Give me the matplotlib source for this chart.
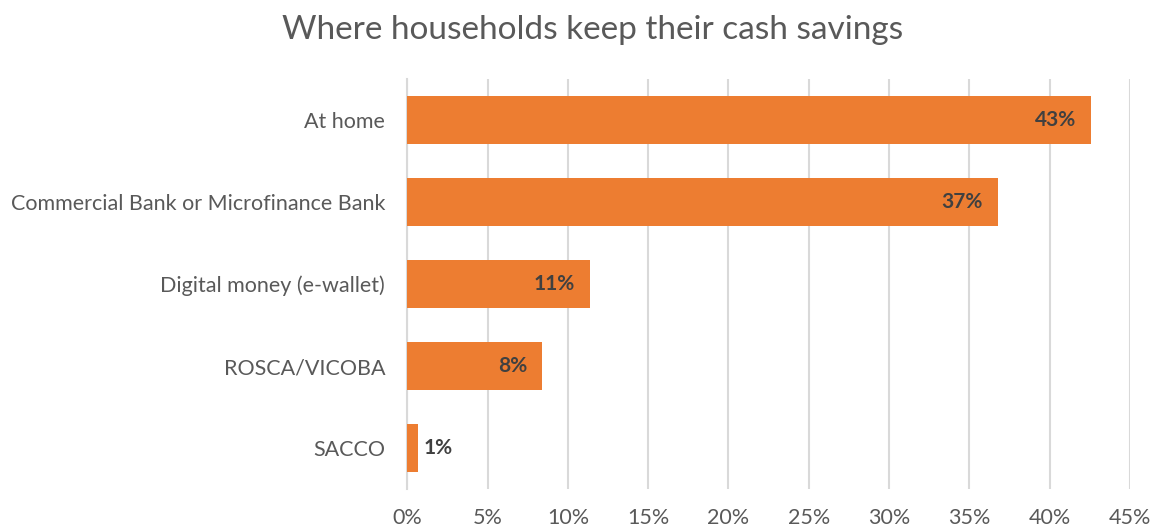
import matplotlib.pyplot as plt
from matplotlib.ticker import FuncFormatter, MultipleLocator

plt.rcParams.update({
    'font.family': ['Lato', 'DejaVu Sans'],
    'font.size': 15,
})

ORANGE = '#ED7D31'
GREY_TXT = '#595959'
GRID = '#D9D9D9'

# share of households (%) by savings location
places = ['At home', 'Commercial Bank or Microfinance Bank', 'Digital money (e-wallet)',
          'ROSCA/VICOBA', 'SACCO']
shares = [42.6, 36.8, 11.4, 8.4, 0.65]

fig = plt.figure(figsize=(11.56, 5.32), dpi=100)
ax = fig.add_axes([0.3523, 0.0808, 0.6252, 0.7707])

ypos = list(range(len(places)))[::-1]
ax.barh(ypos, shares, height=0.585, color=ORANGE, zorder=3)

for y, v in zip(ypos, shares):
    lbl = f'{v:.0f}%'
    if v > 3:
        ax.annotate(lbl, (v, y), xytext=(-11, 0), textcoords='offset points',
                    ha='right', va='center', fontsize=15, fontweight='bold',
                    color='#404040', zorder=4)
    else:
        ax.annotate(lbl, (v, y), xytext=(4, 0), textcoords='offset points',
                    ha='left', va='center', fontsize=15, fontweight='bold',
                    color='#404040', zorder=4)

ax.set_yticks(ypos)
ax.set_yticklabels(places)
ax.set_ylim(-0.5, len(places) - 0.5)
ax.set_xlim(0, 45)
ax.xaxis.set_major_locator(MultipleLocator(5))
ax.xaxis.set_major_formatter(FuncFormatter(lambda x, _: f'{x:.0f}%'))

ax.grid(axis='x', color=GRID, linewidth=1.5, zorder=0)
ax.tick_params(axis='both', length=0, colors=GREY_TXT, labelsize=15.5)
ax.tick_params(axis='y', pad=16)
ax.tick_params(axis='x', pad=14)
for side in ['top', 'right', 'bottom']:
    ax.spines[side].set_visible(False)
ax.spines['left'].set_color(GRID)
ax.spines['left'].set_linewidth(1.5)

fig.suptitle('Where households keep their cash savings', x=0.513, y=0.972,
             fontsize=24, color=GREY_TXT)

fig.savefig('out.png', dpi=100)
